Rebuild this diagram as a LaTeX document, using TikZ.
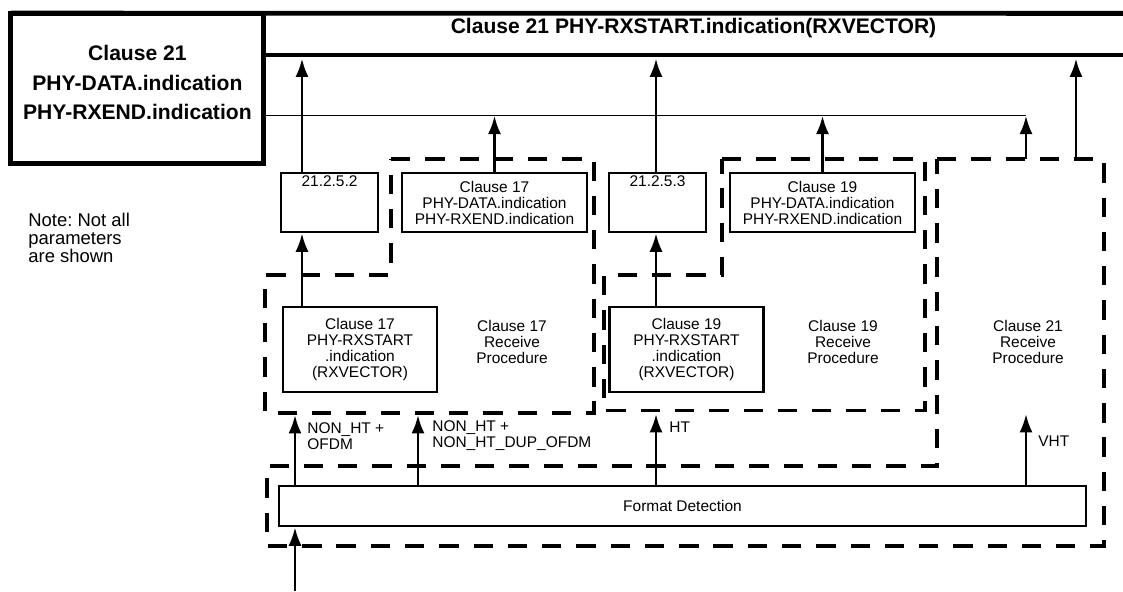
\documentclass[tikz,border=0pt]{standalone}
\usepackage{fontspec}
\setmainfont{Liberation Sans}
\usetikzlibrary{arrows.meta,positioning}
\frenchspacing

\begin{document}
\begin{tikzpicture}[x=0.2mm,y=-0.2mm,>={Latex[length=10.5pt,width=7.5pt]},
  font=\fontsize{8.8}{9.1}\selectfont,
  heavy/.style={line width=2.8pt},
  box/.style={draw,line width=1.5pt,align=center,inner sep=1pt},
  arr/.style={->,line width=1.6pt},
  zone/.style={line width=1.8pt,dash pattern=on 11pt off 8.5pt},
  lab/.style={anchor=west,align=left,inner sep=0pt}]
  \useasboundingbox (0,0) rectangle (1123,591);
  % clause 21 primitives
  \node[box,line width=2.8pt,outer sep=0pt,minimum width=253*0.2mm,
    minimum height=150*0.2mm] (c21) at (137.4,88.2) {};
  \node[font=\bfseries\fontsize{12}{16.8}\selectfont,align=center] (c21txt)
    at (137.4,82.5) {Clause 21\\PHY-DATA.indication\\PHY-RXEND.indication};
  \coordinate (bartop) at (1123,13.3);
  \coordinate (barbot) at (1123,55);
  \draw[heavy] (c21.north west) -- (bartop);
  \draw[heavy] (c21.east |- barbot) -- (barbot);
  \node[font=\bfseries\fontsize{12}{14}\selectfont] (rxstart) at (693.5,28.5)
    {Clause 21 PHY-RXSTART.indication(RXVECTOR)};
  \coordinate (thinend) at (1026,115.7);
  \draw[line width=0.9pt] (c21.east |- thinend) -- (thinend);
  \node[lab,font=\fontsize{10.5}{10.3}\selectfont] (note) at (28,238)
    {Note: Not all\\parameters\\are shown};
  % upper boxes
  \node[box,minimum width=97*0.2mm,minimum height=59*0.2mm] (s2) at (329.5,202.5) {};
  \node[below=2pt of s2.north,inner sep=0pt] (s2txt) {21.2.5.2};
  \node[box,minimum width=185*0.2mm,minimum height=59*0.2mm] (d17) at (494.5,202.5)
    {Clause 17\\PHY-DATA.indication\\PHY-RXEND.indication};
  \node[box,minimum width=97*0.2mm,minimum height=59*0.2mm] (s3) at (657.5,202.5) {};
  \node[below=2pt of s3.north,inner sep=0pt] (s3txt) {21.2.5.3};
  \node[box,minimum width=185*0.2mm,minimum height=59*0.2mm] (d19) at (822.5,202.5)
    {Clause 19\\PHY-DATA.indication\\PHY-RXEND.indication};
  % lower boxes
  \node[box,minimum width=154*0.2mm,minimum height=85*0.2mm] (r17) at (360,349.5)
    {Clause 17\\PHY-RXSTART\\.indication\\(RXVECTOR)};
  \node[box,minimum width=154*0.2mm,minimum height=85*0.2mm] (r19) at (686.5,349.5)
    {Clause 19\\PHY-RXSTART\\.indication\\(RXVECTOR)};
  \node[box,minimum width=807*0.2mm,minimum height=40*0.2mm] (fd) at (682.5,506)
    {Format Detection};
  \node[align=center] (p17) at (512,342) {Clause 17\\Receive\\Procedure};
  \node[align=center] (p19) at (843,342) {Clause 19\\Receive\\Procedure};
  \node[align=center] (p21) at (1028,342) {Clause 21\\Receive\\Procedure};
  % receive procedure zones
  \draw[zone] (391,159) -- (594,159) -- (594,413) -- (265,413) -- (265,275)
    -- (391,275) -- cycle;
  \draw[zone] (722,159) -- (925,159) -- (925,410.7) -- (604,410.7) -- (604,275)
    -- (722,275) -- cycle;
  \draw[zone] (937,159) -- (1104,159) -- (1104,546) -- (267,546) -- (267,466)
    -- (937,466) -- cycle;
  % arrows
  \coordinate (up17) at (302,0);
  \coordinate (up19) at (656,0);
  \coordinate (z21a) at (1026,159);
  \coordinate (z21b) at (1076,159);
  \coordinate (ofdm) at (295,415);
  \coordinate (dup) at (418,415);
  \coordinate (ht) at (656,414);
  \coordinate (vht) at (1026,414);
  \coordinate (inp) at (295,591);
  \draw[arr,shorten >=2pt] (s2.north -| up17) -- (barbot -| up17);
  \draw[arr] (r17.north -| up17) -- (s2.south -| up17);
  \draw[arr,shorten >=2pt] (s3.north -| up19) -- (barbot -| up19);
  \draw[arr] (r19.north -| up19) -- (s3.south -| up19);
  \draw[arr] (d17.north) -- (d17.north |- thinend);
  \draw[arr] (d19.north) -- (d19.north |- thinend);
  \draw[arr] (z21a) -- (z21a |- thinend);
  \draw[arr,shorten >=2pt] (z21b) -- (z21b |- barbot);
  \draw[arr] (fd.north -| ofdm) -- (ofdm);
  \draw[arr] (fd.north -| dup) -- (dup);
  \draw[arr] (fd.north -| ht) -- (ht);
  \draw[arr] (fd.north -| vht) -- (vht);
  \draw[arr] (inp) -- (fd.south -| inp);
  \node[lab] (lofdm) at (307,436) {NON\_HT +\\OFDM};
  \node[lab] (ldup) at (432,436) {NON\_HT +\\NON\_HT\_DUP\_OFDM};
  \node[lab] (lht) at (669,427) {HT};
  \node[lab] (lvht) at (1038,441) {VHT};
\end{tikzpicture}
\end{document}
